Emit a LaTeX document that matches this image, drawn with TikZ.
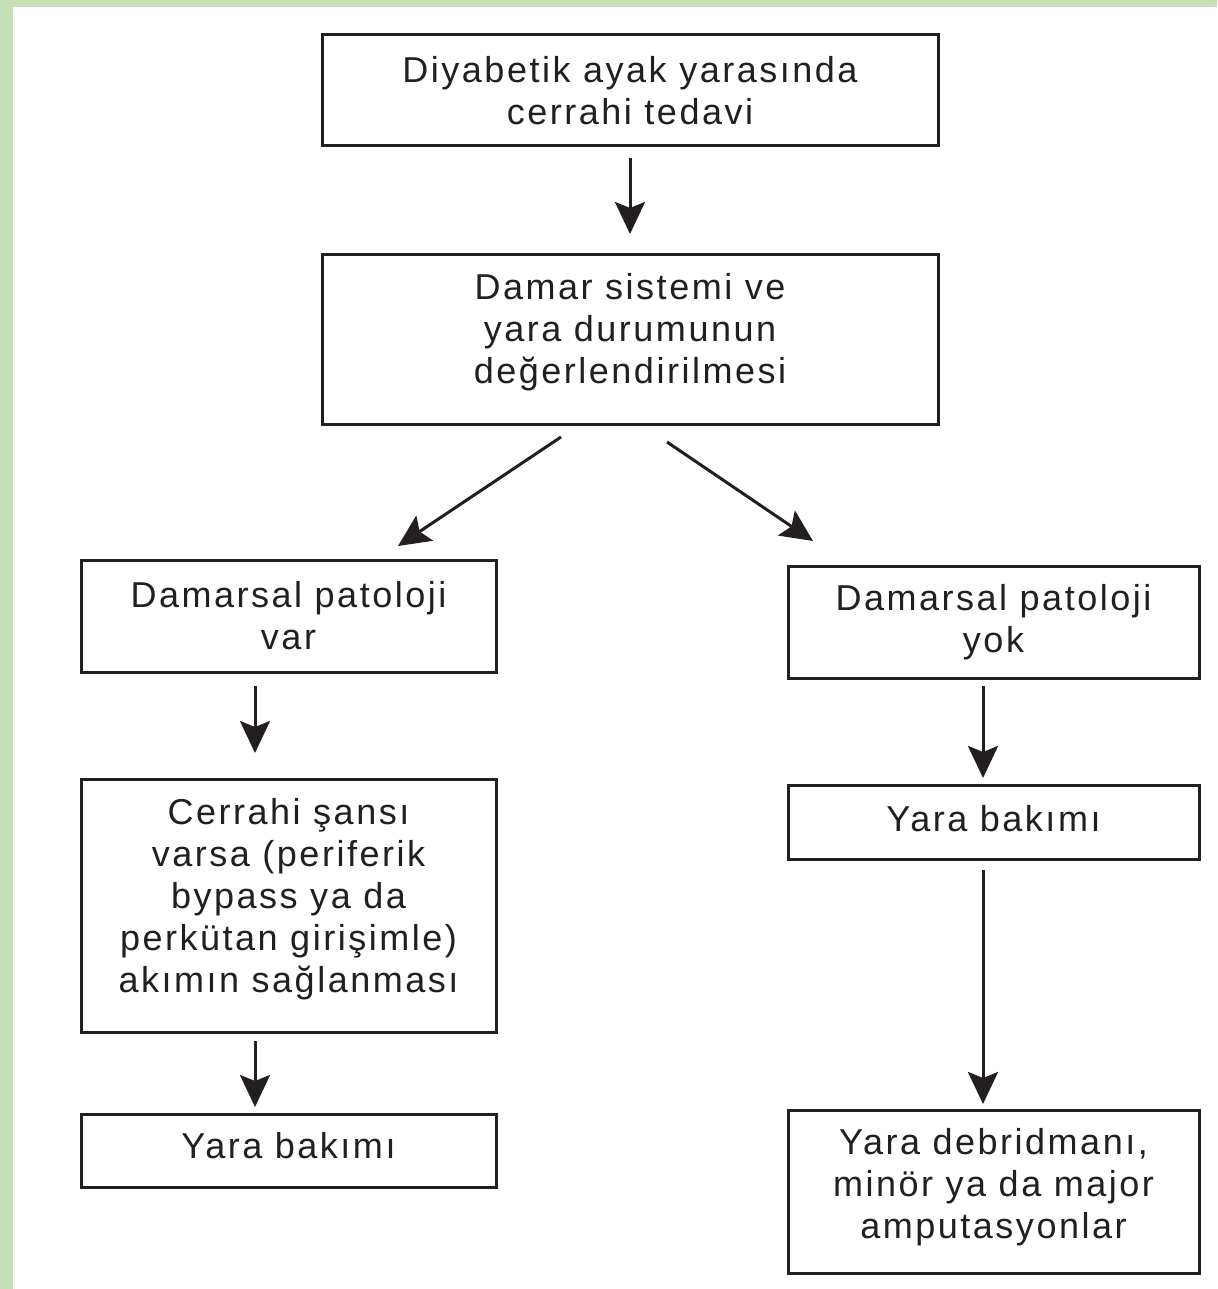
\documentclass[tikz,border=0pt]{standalone}
\usepackage{fontspec}
\setmainfont[LetterSpace=7]{Liberation Sans}
\usetikzlibrary{arrows.meta}
\definecolor{ink}{HTML}{231F20}
\definecolor{frame}{HTML}{C5E0B4}
\tikzset{
  x=0.5pt, y=-0.5pt,
  box/.style={draw=ink, line width=1.5pt, align=center, text=ink, inner sep=0pt,
    font=\fontsize{18pt}{21pt}\selectfont},
  conn/.style={draw=ink, line width=1.5pt, -{Stealth[length=16pt,width=15pt,inset=3pt]}}
}
\begin{document}
\begin{tikzpicture}
\useasboundingbox (0,0) rectangle (1217,1289);
\fill[white] (0,0) rectangle (1217,1289);
\fill[frame] (0,0) rectangle (1217,7);
\fill[frame] (0,0) rectangle (13,1289);

\node[box, minimum width=308pt, minimum height=55.5pt] (b1) at (630,90.5)
  {Diyabetik ayak yarasında\\cerrahi tedavi};
\node[box, minimum width=308pt, minimum height=85pt] (b2) at (630,339)
  {Damar sistemi ve\\yara durumunun\\değerlendirilmesi\\[-10pt]};
\node[box, minimum width=207.5pt, minimum height=56pt] (b3) at (288.5,616)
  {Damarsal patoloji\\var};
\node[box, minimum width=205.5pt, minimum height=56pt] (b4) at (993.5,622)
  {Damarsal patoloji\\yok};
\node[box, minimum width=207.5pt, minimum height=126.5pt] (b5) at (288.5,905.5)
  {Cerrahi şansı\\varsa (periferik\\bypass ya da\\perkütan girişimle)\\akımın sağlanması\\[-11pt]};
\node[box, minimum width=207.5pt, minimum height=36.5pt] (b6) at (288.5,1150.5)
  {Yara bakımı\\[-16pt]};
\node[box, minimum width=205.5pt, minimum height=37pt] (b7) at (993.5,822)
  {Yara bakımı\\[-17pt]};
\node[box, minimum width=205.5pt, minimum height=81.5pt] (b8) at (993.5,1191.5)
  {Yara debridmanı,\\minör ya da major\\amputasyonlar\\[-13pt]};

\coordinate (a1s) at (630,158);  \coordinate (a1e) at (630,234);
\coordinate (a2s) at (561,437);  \coordinate (a2e) at (398,546);
\coordinate (a3s) at (667,442);  \coordinate (a3e) at (813,541);
\coordinate (a4s) at (255,686);  \coordinate (a4e) at (255,753);
\coordinate (a5s) at (255,1041); \coordinate (a5e) at (255,1107);
\coordinate (a6s) at (983,686);  \coordinate (a6e) at (983,778);
\coordinate (a7s) at (983,870);  \coordinate (a7e) at (983,1104);

\draw[conn] (a1s) -- (a1e);
\draw[conn] (a2s) -- (a2e);
\draw[conn] (a3s) -- (a3e);
\draw[conn] (a4s) -- (a4e);
\draw[conn] (a5s) -- (a5e);
\draw[conn] (a6s) -- (a6e);
\draw[conn] (a7s) -- (a7e);
\end{tikzpicture}
\end{document}
